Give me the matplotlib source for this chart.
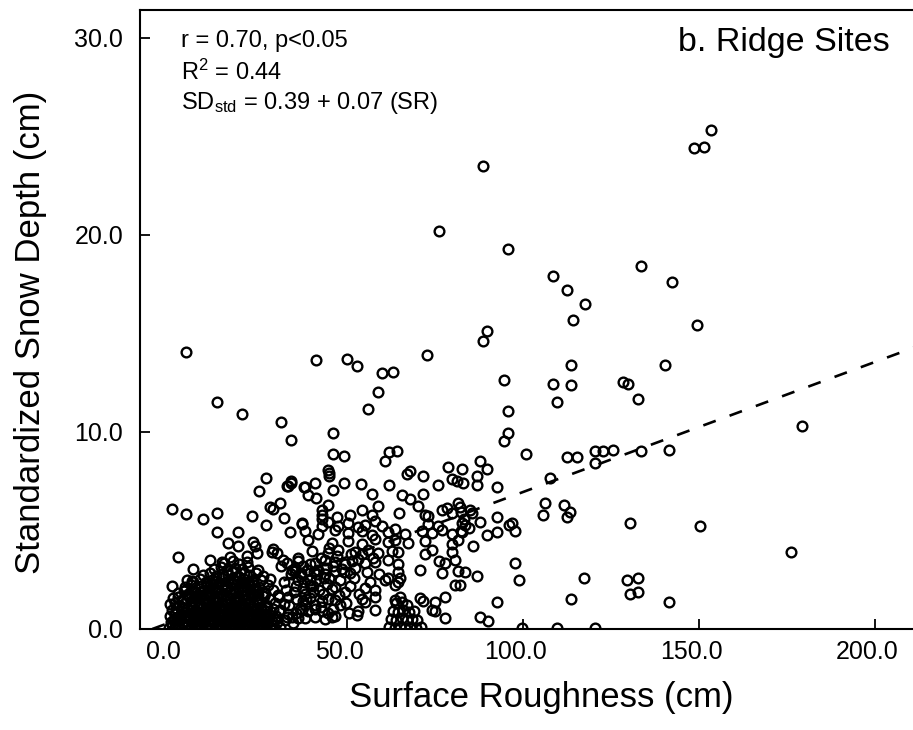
import matplotlib
matplotlib.use("Agg")
import matplotlib.pyplot as plt
from matplotlib.transforms import ScaledTranslation
import numpy as np

plt.rcParams['font.family'] = ['Liberation Sans', 'DejaVu Sans']
plt.rcParams['mathtext.default'] = 'regular'

# ---------------- data ----------------
# isolated high points (x = surface roughness cm, y = standardized snow depth cm)
high_x = [88.7, 148.4, 151.5, 153.4, 95.7, 108.6, 112.6, 117.6, 114.1, 133.5, 142.4, 149.3,
          89.7, 88.7, 113.6, 140.3, 76.1]
high_y = [23.5, 24.4, 24.45, 25.3, 19.3, 17.9, 17.2, 16.5, 15.7, 18.4, 17.6, 15.4,
          15.1, 14.6, 13.4, 13.4, 20.2]

upper_left_x = [4.26, 41.1, 49.9, 52.9, 59.9, 63.0, 72.8, 58.8, 55.9, 13.2, 20.1,
                31.2, 34.0, 27.0, 25.0, 32.9, 34.0, 31.0, 28.1, 29.1, 32.1, 23.1, 0.2, 4.3,
                9.1, 13.2, 27.0]
upper_left_y = [14.05, 13.65, 13.72, 13.35, 13.01, 13.05, 13.91, 12.0, 11.18, 11.54, 10.91,
                10.5, 9.6, 7.65, 7.0, 7.25, 7.5, 6.4, 6.2, 6.1, 5.65, 5.75, 6.1, 5.85,
                5.6, 5.9, 5.3]

mid_upper_x = [46.1, 46.1, 49.0, 60.8, 62.0, 64.1, 44.7, 44.9, 45.0, 67.0, 67.9, 71.7, 78.8,
               82.6, 79.7, 81.2, 75.8, 40.9, 38.1, 39.0, 41.1, 46.1, 49.0, 54.0, 57.0, 61.9,
               65.7, 67.9, 70.1, 71.7, 44.7, 42.8, 42.8, 42.8, 47.1, 50.9, 54.2, 57.2, 58.9,
               64.8, 72.2, 73.1, 76.9, 78.3, 79.7, 81.6, 82.1, 37.1, 37.8, 34.2, 33.2]
mid_upper_y = [9.93, 8.88, 8.78, 8.53, 8.97, 9.05, 8.07, 7.9, 7.77, 7.87, 8.02, 7.77, 8.24,
               8.12, 7.61, 7.51, 7.31, 7.43, 7.19, 6.8, 6.66, 7.06, 7.4, 7.36, 6.85, 7.31,
               6.8, 6.58, 6.24, 6.84, 6.29, 6.04, 5.79, 5.57, 5.70, 5.79, 6.04, 5.79, 6.24,
               5.9, 5.79, 5.74, 6.04, 6.13, 5.87, 6.38, 6.18, 5.37, 7.2, 7.4, 7.25]

right_x = [94.7, 108.6, 113.6, 128.3, 129.9, 109.6, 95.8, 95.6, 94.6, 100.8, 112.6, 115.4,
           120.5, 122.6, 125.6, 120.5, 107.5, 87.8, 89.7, 86.8, 86.8, 82.9, 92.7,
           132.6, 179.2, 133.4, 141.5, 130.4, 150.3, 176.1, 129.5, 132.6, 130.4, 132.6, 141.5,
           106.3, 105.6, 111.6, 113.4, 112.4, 92.7, 95.9, 96.8, 97.7, 87.8, 89.7, 92.7,
           85.4, 84.9, 83.5, 84.5, 82.3, 82.5, 83.2, 85.7, 97.7, 98.7, 83.5, 86.8, 82.1,
           117.4, 113.6, 92.7, 87.8, 89.9, 99.6, 109.6, 120.5]
right_y = [12.64, 12.44, 12.39, 12.52, 12.44, 11.49, 11.08, 9.93, 9.54, 8.87, 8.7, 8.7,
           9.05, 9.05, 9.09, 8.41, 7.65, 8.54, 8.1, 7.77, 7.31, 7.4, 7.22,
           11.68, 10.3, 9.05, 9.09, 5.37, 5.25, 3.93, 2.49, 2.57, 1.76, 1.89, 1.35,
           6.41, 5.79, 6.29, 5.95, 5.7, 5.7, 5.28, 5.4, 4.99, 5.45, 4.77, 4.91,
           5.87, 6.04, 5.3, 5.1, 4.95, 5.95, 5.6, 4.23, 3.33, 2.49, 2.91, 2.69, 2.23,
           2.6, 1.52, 1.39, 0.62, 0.41, 0.03, 0.07, 0.03]

mid_low_x = [37.1, 42.8, 44.6, 47.4, 50.3, 53.1, 55.1, 58.0, 60.0, 73.0, 75.9, 82.7,
             38.1, 41.8, 46.6, 50.4, 54.2, 57.0, 61.7, 63.6, 66.5, 71.2, 74.1, 76.9, 79.7, 82.6,
             39.0, 45.7, 50.4, 54.2, 58.0, 61.7, 63.6, 67.4, 72.2, 79.7, 81.6,
             40.0, 44.7, 47.5, 52.3, 54.2, 56.0, 58.9, 62.7, 64.6, 72.2, 74.1, 79.7,
             36.2, 40.9, 43.8, 46.6, 49.4, 51.3, 53.2, 55.1, 58.0, 61.7, 64.6, 76.0, 77.8, 80.7,
             35.2, 37.0, 38.7, 40.5, 43.8, 46.6, 48.5, 50.9, 64.6, 70.7, 76.9, 81.6,
             60.8, 61.7, 64.6, 65.1,
             35.5, 37.5, 39.5, 45.7, 46.6, 50.9, 55.1, 58.0, 63.6, 80.7,
             35.5, 37.5, 39.5, 46.6, 54.2, 55.1, 58.0, 63.6, 70.7, 71.7, 75.0, 77.8,
             37.1, 40.9, 42.8, 44.7, 46.1, 53.2, 58.0, 74.1, 75.0,
             36.2, 38.1, 40.9, 43.8, 45.7, 46.6, 52.8, 77.8,
             36.5, 38.0, 39.5, 41.0, 42.0, 43.5, 44.5, 36.0, 37.5, 39.0, 41.5, 48.0, 49.5, 52.0,
             53.5, 56.5, 48.0, 50.5, 44.0, 42.5, 45.0,
             62.0, 63.5, 65.0, 66.5, 68.0, 69.5, 71.0, 62.5, 64.0, 65.5, 67.0, 68.5, 70.0,
             63.0, 64.5, 66.0, 67.5, 69.0, 64.0, 65.5, 67.0, 65.0]
mid_low_y = [5.35, 5.2, 5.45, 5.25, 5.4, 5.15, 5.3, 5.5, 5.2, 5.35, 5.25, 5.4,
             4.95, 4.8, 5.0, 4.85, 4.95, 4.75, 4.9, 5.05, 4.8, 4.95, 4.85, 5.0, 4.8, 4.9,
             4.5, 4.35, 4.45, 4.3, 4.55, 4.4, 4.5, 4.35, 4.45, 4.3, 4.5,
             3.95, 3.85, 4.0, 3.9, 3.8, 4.0, 3.85, 3.95, 3.9, 3.8, 4.0, 3.9,
             3.45, 3.35, 3.5, 3.4, 3.3, 3.45, 3.55, 3.35, 3.4, 3.5, 3.3, 3.45, 3.35, 3.5,
             2.95, 2.85, 3.0, 2.9, 2.8, 2.95, 3.05, 2.85, 2.9, 3.0, 2.85, 2.95,
             2.5, 2.6, 2.4, 2.57,
             2.2, 2.1, 2.25, 2.05, 2.15, 2.2, 2.1, 2.0, 2.25, 2.23,
             1.5, 1.4, 1.55, 1.45, 1.5, 1.35, 1.64, 1.45, 1.55, 1.4, 1.39, 1.64,
             0.95, 1.0, 0.9, 0.8, 1.0, 0.92, 0.96, 0.98, 0.9,
             0.56, 0.54, 0.62, 0.5, 0.6, 0.66, 0.71, 0.56,
             1.0, 1.8, 2.5, 1.2, 2.0, 2.6, 1.5, 2.5, 3.2, 0.9, 2.8, 2.5, 1.9, 2.6,
             1.8, 2.4, 1.2, 0.8, 3.1, 3.6, 4.1,
             0.1, 0.05, 0.12, 0.06, 0.1, 0.05, 0.12, 0.5, 0.45, 0.55, 0.48, 0.52, 0.45,
             0.9, 0.85, 0.95, 0.88, 0.92, 1.3, 1.35, 1.2, 1.6]

# extra points in the dark band right of the main cluster (x 30-60, y 0.5-4.5)
band_x = [30.5, 32.0, 33.5, 35.0, 36.8, 38.4, 40.2, 41.8, 43.2, 31.2, 32.8, 34.2, 36.0,
          37.8, 39.6, 41.2, 42.8, 44.4, 46.0, 47.6, 49.2, 51.0, 30.8, 33.2, 35.6, 38.0,
          40.4, 42.6, 45.0, 47.2, 49.8, 52.4, 55.8, 57.4, 59.2]
band_y = [1.7, 2.4, 1.2, 1.9, 2.7, 1.5, 2.2, 3.0, 1.8, 3.2, 2.0, 2.8, 3.6, 2.4, 3.3, 2.5,
          1.4, 2.3, 3.2, 1.7, 2.9, 3.8, 0.9, 1.6, 0.8, 1.2, 1.9, 1.1, 2.6, 3.7, 1.3, 3.1,
          2.9, 3.6, 2.8]

near_x = [13.1, 19.0, 33.8, 16.2, 19.0, 23.3, 23.9, 24.3, 29.0, 30.0, 2.0, 6.3, 4.5, 6.3,
          0.3, 4.0, 11.1, 14.5, 16.8, 21.6, 31.8, 33.0, 34.4, 35.2, 28.7, 33.0, 34.4]
near_y = [4.9, 4.9, 4.9, 4.35, 4.2, 4.4, 4.2, 3.85, 4.05, 3.85, 3.65, 3.05, 2.5, 2.4,
          2.2, 2.0, 3.5, 3.4, 3.65, 3.7, 3.5, 3.35, 3.0, 3.1, 3.9, 0.6, 0.6]

# dense cluster near the origin (estimated positions)
cluster_x = [-0.5, 1.2, 2.4, 4.1, 5.6, 7.0, 8.3, 10.1, 11.4, 13.2, 14.6, 16.1, 17.4, 19.2, 20.4,
             22.1, 23.6, 24.9, 26.4, 28.1, 29.4, 31.0,
             0.1, 1.6, 3.1, 4.4, 6.2, 7.4, 9.1, 10.6, 12.1, 13.4, 15.2, 16.4, 18.1, 19.6, 21.2,
             22.4, 24.1, 25.6, 27.1, 28.6, 30.2, 32.4, 34.6,
             -0.4, 1.1, 2.6, 3.9, 5.4, 7.1, 8.6, 9.9, 11.6, 13.1, 14.4, 16.1, 17.6, 18.9, 20.6,
             22.1, 23.4, 25.1, 26.6, 28.1, 29.9, 33.1,
             0.2, 1.4, 3.1, 4.6, 5.9, 7.6, 9.1, 10.4, 12.1, 13.6, 14.9, 16.6, 18.1, 19.4, 21.1,
             22.6, 23.9, 25.6, 27.1, 28.9, 31.1,
             -0.3, 1.1, 2.4, 4.1, 5.6, 6.9, 8.6, 10.1, 11.4, 13.1, 14.6, 15.9, 17.6, 19.1, 20.4,
             22.1, 23.6, 24.9, 27.1, 29.4, 32.1,
             0.6, 2.1, 3.4, 5.1, 6.6, 7.9, 9.6, 11.1, 12.4, 14.1, 15.6, 16.9, 18.6, 20.1, 21.4,
             23.1, 24.6, 26.1, 28.1, 30.6,
             2.1, 3.6, 4.9, 6.6, 8.1, 9.4, 11.1, 12.6, 13.9, 15.6, 17.1, 18.4, 20.1, 21.6, 22.9,
             24.6, 26.6, 29.1,
             4.1, 5.6, 6.9, 8.6, 10.1, 11.4, 13.1, 14.6, 15.9, 17.6, 19.1, 20.4, 22.1, 23.6, 25.1,
             27.6,
             6.1, 8.1, 9.9, 11.6, 13.1, 14.4, 16.1, 17.6, 18.9, 20.6, 22.1, 23.4, 25.6, 28.1,
             9.1, 11.1, 12.9, 14.6, 16.1, 17.4, 19.1, 20.6, 22.1, 24.1, 26.1,
             12.1, 14.1, 15.9, 18.1, 20.1, 21.9, 24.6,
             15.1, 17.6, 19.4, 21.6]
cluster_y = [0.05, 0.12, 0.04, 0.1, 0.06, 0.14, 0.03, 0.09, 0.05, 0.13, 0.02, 0.1, 0.07, 0.15, 0.04,
             0.11, 0.05, 0.12, 0.03, 0.09, 0.06, 0.12,
             0.35, 0.44, 0.3, 0.4, 0.36, 0.47, 0.31, 0.42, 0.35, 0.46, 0.3, 0.39, 0.37, 0.45, 0.32,
             0.41, 0.34, 0.46, 0.3, 0.4, 0.36, 0.44, 0.31,
             0.65, 0.74, 0.6, 0.7, 0.66, 0.77, 0.61, 0.72, 0.64, 0.76, 0.6, 0.69, 0.67, 0.75, 0.62,
             0.71, 0.64, 0.76, 0.6, 0.7, 0.66, 0.74,
             0.95, 1.04, 0.9, 1.0, 0.96, 1.07, 0.91, 1.02, 0.95, 1.06, 0.9, 0.99, 0.97, 1.05, 0.92,
             1.01, 0.94, 1.06, 0.9, 1.0, 0.96,
             1.25, 1.34, 1.2, 1.3, 1.26, 1.37, 1.21, 1.32, 1.24, 1.36, 1.2, 1.29, 1.27, 1.35, 1.22,
             1.31, 1.24, 1.36, 1.2, 1.3, 1.26,
             1.55, 1.64, 1.5, 1.6, 1.56, 1.67, 1.51, 1.62, 1.54, 1.66, 1.5, 1.59, 1.57, 1.65, 1.52,
             1.61, 1.54, 1.66, 1.5, 1.6,
             1.85, 1.94, 1.8, 1.9, 1.86, 1.97, 1.81, 1.92, 1.84, 1.96, 1.8, 1.89, 1.87, 1.95, 1.82,
             1.91, 1.84, 1.96,
             2.15, 2.24, 2.1, 2.2, 2.16, 2.27, 2.11, 2.22, 2.14, 2.26, 2.1, 2.19, 2.17, 2.25, 2.12,
             2.21,
             2.45, 2.54, 2.4, 2.5, 2.46, 2.57, 2.41, 2.52, 2.44, 2.56, 2.4, 2.49, 2.47, 2.55,
             2.75, 2.84, 2.7, 2.8, 2.76, 2.87, 2.71, 2.82, 2.74, 2.86, 2.7,
             3.05, 3.14, 3.0, 3.1, 3.06, 3.17, 3.01,
             3.35, 3.44, 3.3, 3.4]

# second layer of the dense cluster (estimated, fills the solid black area)
cluster2_x = [0.4, 1.9, 3.3, 4.8, 6.3, 7.8, 9.2, 10.7, 12.3, 13.8, 15.3, 16.8, 18.3, 19.8, 21.3,
              22.8, 24.3, 25.8, 27.3, 28.8,
              0.9, 2.3, 3.8, 5.3, 6.8, 8.3, 9.8, 11.3, 12.8, 14.3, 15.8, 17.3, 18.8, 20.3, 21.8,
              23.3, 24.8, 26.3, 27.8, 29.6,
              1.4, 2.8, 4.3, 5.8, 7.3, 8.8, 10.3, 11.8, 13.3, 14.8, 16.3, 17.8, 19.3, 20.8, 22.3,
              23.8, 25.3, 26.8,
              3.0, 4.6, 6.1, 7.6, 9.1, 10.6, 12.1, 13.6, 15.1, 16.6, 18.1, 19.6, 21.1, 22.6, 24.1,
              25.6, 27.2,
              5.2, 6.7, 8.2, 9.7, 11.2, 12.7, 14.2, 15.7, 17.2, 18.7, 20.2, 21.7, 23.2, 24.7, 26.4,
              10.2, 12.0, 13.7, 15.4, 17.0, 18.6, 20.2, 21.8, 23.2]
cluster2_y = [0.22, 0.18, 0.25, 0.2, 0.24, 0.19, 0.23, 0.2, 0.26, 0.18, 0.22, 0.25, 0.2, 0.23,
              0.19, 0.24, 0.21, 0.18, 0.25, 0.2,
              0.52, 0.48, 0.55, 0.5, 0.54, 0.49, 0.53, 0.5, 0.56, 0.48, 0.52, 0.55, 0.5, 0.53,
              0.49, 0.54, 0.51, 0.48, 0.55, 0.5,
              0.82, 0.78, 0.85, 0.8, 0.84, 0.79, 0.83, 0.8, 0.86, 0.78, 0.82, 0.85, 0.8, 0.83,
              0.79, 0.84, 0.81, 0.78,
              1.12, 1.08, 1.15, 1.1, 1.14, 1.09, 1.13, 1.1, 1.16, 1.08, 1.12, 1.15, 1.1, 1.13,
              1.09, 1.14, 1.11,
              1.72, 1.68, 1.75, 1.7, 1.74, 1.69, 1.73, 1.7, 1.76, 1.68, 1.72, 1.75, 1.7, 1.73,
              1.69,
              2.32, 2.28, 2.35, 2.3, 2.34, 2.29, 2.33, 2.3, 2.36]

# regression line drawn in the figure
fit_intercept = 0.35
fit_slope = 0.066
fit_x = [-5.3, 212.0]

# axis ticks
xticks = [0, 50, 100, 150, 200]
xtick_labels = ['0.0', '50.0', '100.0', '150.0', '200.0']
yticks = [0, 10, 20, 30]
ytick_labels = ['0.0', '10.0', '20.0', '30.0']

# ---------------- figure ----------------
fig = plt.figure(figsize=(9.13, 7.30), dpi=100)
ax = fig.add_axes([140/913, (730-629)/730, 775/913, 619/730])

all_x = (high_x + upper_left_x + mid_upper_x + right_x + mid_low_x + band_x + near_x
         + cluster_x + cluster2_x)
all_y = (high_y + upper_left_y + mid_upper_y + right_y + mid_low_y + band_y + near_y
         + cluster_y + cluster2_y)

ax.plot(all_x, all_y, linestyle='none', marker='o', markersize=7.0,
        markerfacecolor='none', markeredgecolor='black', markeredgewidth=1.7, zorder=3)

fx = np.array(fit_x)
ax.plot(fx, fit_intercept + fit_slope * fx, color='black', linewidth=1.9,
        linestyle=(0, (5.0, 5.6)), zorder=4)

ax.set_xlim(-8.8, 211.3)
ax.set_ylim(0, 31.4)
ax.set_xticks(xticks)
ax.set_xticklabels(xtick_labels)
ax.set_yticks(yticks)
ax.set_yticklabels(ytick_labels)
ax.tick_params(direction='in', length=7, width=1.3, labelsize=18, pad=8)
ax.tick_params(axis='y', pad=12)
for s in ax.spines.values():
    s.set_linewidth(1.5)

off = ScaledTranslation(-8/100, 0, fig.dpi_scale_trans)
for lab in ax.get_xticklabels():
    lab.set_transform(lab.get_transform() + off)

fig.text(541/913, 1 - 698/730, 'Surface Roughness (cm)', fontsize=25, va='center', ha='center')
fig.text(31/913, 1 - 332/730, 'Standardized Snow Depth (cm)', fontsize=25, va='center',
         ha='center', rotation=90)

fig.text(181/913, 1 - 41/730, 'r = 0.70, p<0.05', fontsize=17, va='center', ha='left')
fig.text(181/913, 1 - 72/730, r'R$^2$ = 0.44', fontsize=17, va='center', ha='left')
fig.text(181/913, 1 - 103/730, r'SD$_{std}$ = 0.39 + 0.07 (SR)', fontsize=17, va='center', ha='left')
fig.text(890/913, 1 - 43/730, 'b. Ridge Sites', fontsize=24.5, va='center', ha='right')

fig.savefig('out.png', dpi=100)
